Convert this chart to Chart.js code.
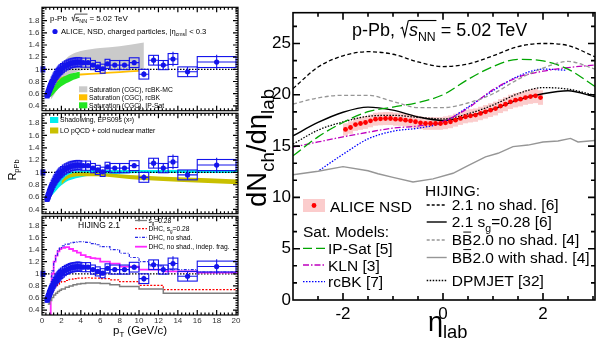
<!DOCTYPE html>
<html>
<head>
<meta charset="utf-8">
<title>p-Pb 5.02 TeV: R_pPb and dN/deta</title>
<script src="https://cdn.jsdelivr.net/npm/chart.js@4.4.1/dist/chart.umd.min.js"></script>
<style>
  html, body { margin: 0; padding: 0; background: #fff; }
  #fig { position: relative; width: 597px; height: 343px; overflow: hidden; }
  #fig canvas { position: absolute; }
</style>
</head>
<body>
<div id="fig">
  <canvas id="rp1" width="245" height="118" style="left:0;top:0"></canvas>
  <canvas id="rp2" width="245" height="115" style="left:0;top:106px"></canvas>
  <canvas id="rp3" width="245" height="134" style="left:0;top:209px"></canvas>
  <canvas id="eta" width="352" height="343" style="left:245px;top:0"></canvas>
</div>
<script>
const FONT = '"Liberation Sans", Arial, Helvetica, sans-serif';

// ---------- ALICE R_pPb, NSD, |eta_cms| < 0.3 ----------
const ptEdges = [0.5, 0.55, 0.6, 0.65, 0.7, 0.75, 0.8, 0.85, 0.9, 0.95, 1.0,
  1.1, 1.2, 1.3, 1.4, 1.5, 1.6, 1.7, 1.8, 1.9, 2.0,
  2.2, 2.4, 2.6, 2.8, 3.0, 3.2, 3.4, 3.6, 3.8, 4.0,
  4.5, 5.0, 5.5, 6.0, 6.5, 7.0, 8.0, 9.0, 10, 11, 12, 13, 14, 16, 20];
const rpPb = [0.57, 0.59, 0.61, 0.63, 0.655, 0.675, 0.695, 0.715, 0.735, 0.755,
  0.78, 0.815, 0.845, 0.875, 0.9, 0.925, 0.945, 0.965, 0.985, 1.0,
  1.02, 1.045, 1.065, 1.08, 1.095, 1.105, 1.11, 1.115, 1.12, 1.115,
  1.11, 1.11, 1.07, 1.04, 1.01, 1.09, 1.07, 1.07, 1.11, 0.92, 1.15, 1.07, 1.17, 0.96, 1.12];
const rpPbStat = [0.005, 0.005, 0.005, 0.005, 0.005, 0.005, 0.005, 0.005, 0.005, 0.005,
  0.005, 0.005, 0.005, 0.005, 0.005, 0.005, 0.005, 0.005, 0.006, 0.006,
  0.006, 0.006, 0.007, 0.007, 0.007, 0.008, 0.008, 0.009, 0.009, 0.01,
  0.01, 0.012, 0.015, 0.018, 0.02, 0.025, 0.025, 0.03, 0.04, 0.05, 0.08, 0.07, 0.12, 0.08, 0.12];
const rpPbSys = [0.04, 0.04, 0.045, 0.045, 0.045, 0.05, 0.05, 0.05, 0.05, 0.055,
  0.055, 0.06, 0.06, 0.065, 0.065, 0.07, 0.07, 0.07, 0.07, 0.075,
  0.075, 0.075, 0.075, 0.075, 0.075, 0.075, 0.075, 0.075, 0.075, 0.075,
  0.075, 0.075, 0.075, 0.075, 0.075, 0.075, 0.075, 0.075, 0.08, 0.08, 0.08, 0.075, 0.09, 0.08, 0.09];
const normUnc = 0.05;

// ---------- panel 1: saturation (CGC) ----------
const rcbkMcPt = [0.9, 1.2, 1.5, 2.0, 2.5, 3.0, 4.0, 5.0, 6.0, 8.0, 10.5];
const rcbkMcHi = [0.6, 0.76, 0.92, 1.08, 1.18, 1.24, 1.3, 1.33, 1.35, 1.38, 1.44];
const rcbkMcLo = [0.5, 0.57, 0.65, 0.77, 0.86, 0.92, 0.98, 1.0, 1.0, 0.99, 0.99];
const rcbkPt = [1.5, 2, 3, 4, 6, 8, 10];
const rcbkHi = [0.82, 0.87, 0.91, 0.93, 0.95, 0.97, 0.99];
const rcbkLo = [0.78, 0.83, 0.88, 0.9, 0.92, 0.94, 0.96];
const ipsatPt = [0.6, 0.8, 1.0, 1.5, 2.0, 2.5, 3.0, 3.5, 3.9];
const ipsatHi = [0.58, 0.62, 0.67, 0.78, 0.86, 0.9, 0.93, 0.95, 0.96];
const ipsatLo = [0.52, 0.54, 0.56, 0.65, 0.72, 0.77, 0.81, 0.84, 0.86];

// ---------- panel 2: shadowing / pQCD ----------
const eps09Pt = [0.5, 0.75, 1.0, 1.5, 2.0, 2.5, 3.0, 4.0, 5.0, 6.0, 8.0, 10, 14, 20.2];
const eps09Hi = [0.6, 0.66, 0.73, 0.86, 0.95, 0.99, 1.01, 1.03, 1.04, 1.04, 1.04, 1.04, 1.04, 1.04];
const eps09Lo = [0.55, 0.58, 0.62, 0.71, 0.79, 0.85, 0.88, 0.92, 0.95, 0.96, 0.98, 0.99, 0.99, 0.99];
const pqcdPt = [2.0, 2.5, 3.0, 4.0, 6.0, 8.0, 10, 14, 20.2];
const pqcdHi = [0.86, 0.94, 0.98, 1.0, 0.99, 0.97, 0.95, 0.92, 0.885];
const pqcdLo = [0.8, 0.88, 0.92, 0.94, 0.94, 0.91, 0.88, 0.85, 0.81];

// ---------- panel 3: HIJING 2.1 (bin left edges) ----------
const hjSgPt = [0.6, 0.8, 1.0, 1.2, 1.4, 1.6, 1.8, 2.0, 2.4, 2.8, 3.2, 3.6, 4.0, 4.5, 5.0, 5.5, 6, 7, 8, 10, 12.5, 20.2];
const hjSg = [0.5, 0.56, 0.61, 0.65, 0.68, 0.71, 0.73, 0.75, 0.78, 0.8, 0.82, 0.83, 0.84, 0.85, 0.85, 0.85, 0.84, 0.82, 0.79, 0.75, 0.68, 0.68];
const hjDhcSgPt = [0.9, 1.0, 1.2, 1.4, 1.6, 1.8, 2.0, 2.4, 2.8, 3.2, 3.6, 4.0, 4.5, 5.0, 5.5, 6, 7, 8, 10, 12.5, 20.2];
const hjDhcSg = [0.68, 0.72, 0.76, 0.8, 0.83, 0.85, 0.87, 0.89, 0.91, 0.92, 0.93, 0.93, 0.935, 0.93, 0.93, 0.92, 0.9, 0.87, 0.81, 0.74, 0.74];
const hjDhcPt = [0.9, 1.0, 1.2, 1.4, 1.6, 1.8, 2.0, 2.4, 2.8, 3.2, 3.6, 4.0, 4.5, 5.0, 5.5, 6, 7, 8, 9, 10, 11, 12.5, 16, 20.2];
const hjDhc = [0.95, 1.05, 1.2, 1.31, 1.38, 1.43, 1.46, 1.49, 1.51, 1.52, 1.53, 1.53, 1.52, 1.5, 1.48, 1.45, 1.4, 1.34, 1.27, 1.2, 1.13, 1.07, 1.03, 1.03];
const hjIndepPt = [0.85, 0.9, 1.0, 1.2, 1.4, 1.6, 1.8, 2.0, 2.4, 2.8, 3.2, 3.6, 4.0, 4.5, 5.0, 5.5, 6, 7, 8, 10, 12.5, 16, 20.2];
const hjIndep = [0.2, 0.7, 1.0, 1.2, 1.3, 1.37, 1.41, 1.43, 1.44, 1.41, 1.38, 1.35, 1.31, 1.28, 1.26, 1.25, 1.2, 1.17, 1.12, 1.07, 1.04, 1.02, 1.02];

// ---------- right: dNch/deta_lab ----------
const etaAlice = [-1.95, -1.85, -1.75, -1.65, -1.55, -1.45, -1.35, -1.25, -1.15, -1.05,
  -0.95, -0.85, -0.75, -0.65, -0.55, -0.45, -0.35, -0.25, -0.15, -0.05,
  0.05, 0.15, 0.25, 0.35, 0.45, 0.55, 0.65, 0.75, 0.85, 0.95,
  1.05, 1.15, 1.25, 1.35, 1.45, 1.55, 1.65, 1.75, 1.85, 1.95];
const dndetaAlice = [16.62, 16.81, 17.1, 17.2, 17.3, 17.46, 17.62, 17.66, 17.69, 17.69,
  17.62, 17.6, 17.53, 17.46, 17.37, 17.27, 17.2, 17.2, 17.2, 17.2,
  17.27, 17.37, 17.53, 17.7, 17.86, 17.95, 18.02, 18.18, 18.34, 18.5,
  18.66, 18.9, 19.08, 19.31, 19.47, 19.57, 19.73, 19.83, 19.9, 19.73];
const aliceSysRel = 0.036;

const etaModel = [-3, -2.5, -2, -1.5, -1, -0.5, 0, 0.5, 1, 1.5, 2, 2.5, 3.04];
const hij21NoShad = [20.6, 22.7, 23.8, 24.2, 23.95, 23.2, 22.75, 23.0, 23.8, 24.7, 25.0, 24.8, 23.7];
const hij21Sg = [16.0, 17.3, 18.3, 18.8, 18.5, 17.85, 17.5, 17.9, 18.6, 19.5, 20.1, 20.4, 19.8];
const bbNoShad = [19.1, 19.7, 19.95, 19.95, 19.35, 18.75, 18.75, 19.2, 20.1, 21.5, 22.6, 23.25, 22.5];
const dpmjet = [15.2, 16.55, 17.35, 17.9, 18.0, 17.8, 17.65, 18.15, 19.0, 20.1, 20.7, 20.55, 19.95];
const ipSatDn = [14.05, 15.9, 17.3, 18.35, 18.8, 19.25, 20.0, 21.5, 22.75, 23.45, 23.3, 22.5, 20.8];
const klnDn = [14.9, 15.4, 15.9, 16.35, 16.75, 16.95, 17.4, 18.7, 20.5, 21.7, 22.3, 22.65, 22.9];
const bbShadEta = [-3, -2.5, -2, -1.5, -1.3, -1, -0.6, -0.2, 0.2, 0.5, 0.85, 1.1, 1.4, 1.7, 2.0, 2.3, 2.55, 2.7, 3.04];
const bbShad = [12.2, 12.55, 13.0, 12.6, 12.3, 11.95, 11.5, 11.8, 12.35, 13.1, 13.95, 14.3, 14.95, 15.1, 15.4, 15.5, 15.75, 15.4, 15.55];
const rcbkEta = [-2.47, -2, -1.5, -1, -0.5, 0, 0.5, 1, 1.5, 2, 2.45];
const rcbkDn = [12.65, 14.2, 15.7, 16.45, 16.75, 17.3, 18.8, 20.4, 21.8, 22.5, 22.4];

// ---------- ticks ----------
const ptTicks = [0, 2, 4, 6, 8, 10, 12, 14, 16, 18, 20];
const rTicks = [0.4, 0.6, 0.8, 1, 1.2, 1.4, 1.6, 1.8];
const etaTicks = [-2, 0, 2];
const dnTicks = [0, 5, 10, 15, 20, 25];

// ---------- colours ----------
const BLUE = 'rgb(20,20,235)';
const RED = 'rgb(255,0,0)';
const PINK = 'rgba(248,170,170,0.6)';

// ---------- helpers ----------
const xy = (xs, ys) => xs.map((x, i) => ({ x, y: ys[i] }));
function minorTicks(a, b, step, skip) {
  const out = [];
  for (let k = Math.ceil(a / step - 1e-9); k * step <= b + 1e-9; k++) {
    const v = +(k * step).toFixed(6);
    if (!skip.some(s => Math.abs(s - v) < 1e-6)) out.push(v);
  }
  return out;
}

const N = t => ({ t }), B = (t, ov) => ({ t, b: 1, ov }), I = (t, ov) => ({ t, it: 1, ov });
const RAD = { rad: 1 };
function rich(ctx, x, y, parts, size, align, color) {
  const sz = p => (p.b ? size * 0.68 : size);
  const font = p => (p.it ? 'italic ' : '') + sz(p).toFixed(2) + 'px ' + FONT;
  const widths = parts.map(p => {
    if (p.rad) return size * 0.5;
    ctx.font = font(p);
    return ctx.measureText(p.t).width;
  });
  const total = widths.reduce((a, b) => a + b, 0);
  let cx = align === 'center' ? x - total / 2 : align === 'right' ? x - total : x;
  ctx.save();
  ctx.fillStyle = ctx.strokeStyle = color || '#000';
  ctx.textAlign = 'left';
  ctx.textBaseline = 'alphabetic';
  ctx.lineWidth = Math.max(0.7, size / 16);
  let ovFrom = null, ovTo = null;
  parts.forEach((p, i) => {
    if (p.rad) {
      ctx.beginPath();
      ctx.moveTo(cx + 0.03 * size, y - 0.42 * size);
      ctx.lineTo(cx + 0.13 * size, y - 0.48 * size);
      ctx.lineTo(cx + 0.26 * size, y + 0.02 * size);
      ctx.lineTo(cx + 0.46 * size, y - 0.86 * size);
      ctx.stroke();
      ovFrom = cx + 0.46 * size;
    } else {
      ctx.font = font(p);
      ctx.fillText(p.t, cx, y + (p.b ? 0.28 * size : 0));
      if (p.ov) ovTo = cx + widths[i];
      if (p.bar) {
        ctx.beginPath();
        ctx.moveTo(cx + 0.08 * size, y - 0.86 * size);
        ctx.lineTo(cx + widths[i] - 0.08 * size, y - 0.86 * size);
        ctx.stroke();
      }
    }
    cx += widths[i];
  });
  if (ovFrom !== null && ovTo !== null) {
    ctx.beginPath();
    ctx.moveTo(ovFrom, y - 0.86 * size);
    ctx.lineTo(ovTo + 0.04 * size, y - 0.86 * size);
    ctx.stroke();
  }
  ctx.restore();
}
function sample(ctx, x0, x1, y, color, width, dash) {
  ctx.save();
  ctx.strokeStyle = color; ctx.lineWidth = width; ctx.setLineDash(dash || []);
  ctx.beginPath(); ctx.moveTo(x0, y); ctx.lineTo(x1, y); ctx.stroke();
  ctx.restore();
}
function dot(ctx, x, y, r, color) {
  ctx.save(); ctx.fillStyle = color;
  ctx.beginPath(); ctx.arc(x, y, r, 0, 2 * Math.PI); ctx.fill();
  ctx.restore();
}
function rotated(ctx, x, y, fn) {
  ctx.save(); ctx.translate(x, y); ctx.rotate(-Math.PI / 2); fn(); ctx.restore();
}

// frame with inward ticks on all four sides
function makeFrame(spec) {
  return {
    id: 'frame',
    afterDraw(chart) {
      const { ctx, chartArea: a } = chart;
      const sx = chart.scales.x, sy = chart.scales.y;
      ctx.save();
      ctx.strokeStyle = '#000';
      ctx.lineWidth = spec.lw;
      ctx.beginPath();
      const mark = (vals, len, horiz) => vals.forEach(v => {
        if (horiz) {
          const px = sx.getPixelForValue(v);
          if (px < a.left + 0.5 || px > a.right - 0.5) return;
          ctx.moveTo(px, a.bottom); ctx.lineTo(px, a.bottom - len);
          ctx.moveTo(px, a.top); ctx.lineTo(px, a.top + len);
        } else {
          const py = sy.getPixelForValue(v);
          if (py < a.top + 0.5 || py > a.bottom - 0.5) return;
          ctx.moveTo(a.left, py); ctx.lineTo(a.left + len, py);
          ctx.moveTo(a.right, py); ctx.lineTo(a.right - len, py);
        }
      });
      mark(spec.xMajor, spec.major, true);
      mark(spec.xMinor, spec.minor, true);
      mark(spec.yMajor, spec.major, false);
      mark(spec.yMinor, spec.minor, false);
      ctx.stroke();
      ctx.strokeRect(a.left, a.top, a.right - a.left, a.bottom - a.top);
      ctx.restore();
    }
  };
}

// systematic boxes and error bars, drawn under the markers of the dataset
const errPlugin = {
  id: 'errs',
  beforeDatasetDraw(chart, args) {
    const ds = chart.data.datasets[args.index];
    const e = ds.err;
    if (!e) return;
    const { ctx, chartArea: a } = chart;
    const sx = chart.scales.x, sy = chart.scales.y;
    ctx.save();
    if (e.norm) {
      ctx.fillStyle = e.stroke;
      const x0 = sx.getPixelForValue(-0.15), x1 = sx.getPixelForValue(0.35);
      const y0 = sy.getPixelForValue(1 + e.norm), y1 = sy.getPixelForValue(1 - e.norm);
      ctx.fillRect(x0, y0, x1 - x0, y1 - y0);
    }
    ctx.beginPath();
    ctx.rect(a.left, a.top, a.right - a.left, a.bottom - a.top);
    ctx.clip();
    ds.data.forEach((p, i) => {
      const x0 = sx.getPixelForValue(p.x - e.bw[i]), x1 = sx.getPixelForValue(p.x + e.bw[i]);
      const y0 = sy.getPixelForValue(p.y + e.sys[i]), y1 = sy.getPixelForValue(p.y - e.sys[i]);
      if (e.fill) { ctx.fillStyle = e.fill; ctx.fillRect(x0, y0, x1 - x0, y1 - y0); }
      if (e.stroke) {
        ctx.strokeStyle = e.stroke; ctx.lineWidth = e.lw;
        ctx.strokeRect(x0, y0, x1 - x0, y1 - y0);
      }
      if (e.stat) {
        const px = sx.getPixelForValue(p.x), py = sy.getPixelForValue(p.y);
        ctx.beginPath();
        ctx.moveTo(px, sy.getPixelForValue(p.y + e.stat[i]));
        ctx.lineTo(px, sy.getPixelForValue(p.y - e.stat[i]));
        ctx.moveTo(sx.getPixelForValue(e.xlo[i]), py);
        ctx.lineTo(sx.getPixelForValue(e.xhi[i]), py);
        ctx.lineWidth = 1.1;
        ctx.stroke();
      }
    });
    ctx.restore();
  }
};

// ---------- left panels ----------
const ptLo = ptEdges.slice(0, -1), ptHi = ptEdges.slice(1);
const ptMid = ptLo.map((lo, i) => (lo + ptHi[i]) / 2);

function aliceRpPb() {
  return {
    data: xy(ptMid, rpPb), showLine: false, pointRadius: 2.6, pointBorderWidth: 0,
    pointBackgroundColor: BLUE, order: 0,
    err: { xlo: ptLo, xhi: ptHi, bw: ptLo.map((lo, i) => Math.max((ptHi[i] - lo) / 2, 0.2)),
      sys: rpPbSys, stat: rpPbStat, stroke: BLUE, lw: 1.1, norm: normUnc }
  };
}
function unity(order) {
  return { data: [{ x: 0, y: 1 }, { x: 20.2, y: 1 }], borderColor: '#000', borderWidth: 1.2,
    borderDash: [1.5, 1.5], pointRadius: 0, fill: false, order };
}
function band(xs, hi, lo, color, order) {
  const common = { pointRadius: 0, borderWidth: 0, borderColor: 'rgba(0,0,0,0)',
    cubicInterpolationMode: 'monotone', order };
  return [
    Object.assign({ data: xy(xs, hi), fill: '+1', backgroundColor: color }, common),
    Object.assign({ data: xy(xs, lo), fill: false }, common)
  ];
}
function hist(xs, ys, color, width, dash) {
  return { data: xy(xs, ys), stepped: true, borderColor: color, borderWidth: width,
    borderDash: dash, pointRadius: 0, fill: false, order: 2 };
}
function legendBox(ctx, yc, color, text, x) {
  ctx.save(); ctx.fillStyle = color; ctx.fillRect(x, yc - 3, 8.3, 6); ctx.restore();
  rich(ctx, x + 10, yc + 2.4, [N(text)], 6.8);
}

function leftPanel(id, yMin, yMax, pad, withX, datasets, drawText) {
  return new Chart(document.getElementById(id), {
    type: 'line',
    data: { datasets },
    options: {
      responsive: false, animation: false, devicePixelRatio: 1, events: [],
      layout: { padding: pad, autoPadding: false },
      plugins: { legend: { display: false }, tooltip: { enabled: false } },
      scales: {
        x: {
          type: 'linear', min: 0, max: 20.2, display: withX,
          afterFit: s => { s.height = withX ? 28 : 0; },
          afterBuildTicks: s => { s.ticks = ptTicks.map(v => ({ value: v })); },
          grid: { display: false, drawTicks: false }, border: { display: false },
          ticks: { font: { family: FONT, size: 8 }, color: '#333', padding: 1, maxRotation: 0, autoSkip: false }
        },
        y: {
          type: 'linear', min: yMin, max: yMax,
          afterFit: s => { s.width = 42; },
          afterBuildTicks: s => { s.ticks = rTicks.map(v => ({ value: v })); },
          grid: { display: false, drawTicks: false }, border: { display: false },
          ticks: { font: { family: FONT, size: 8 }, color: '#333', padding: 2.5, autoSkip: false,
            callback: v => String(v) }
        }
      }
    },
    plugins: [
      makeFrame({ lw: 1.2, major: 5, minor: 2.5, xMajor: ptTicks, xMinor: minorTicks(0, 20.2, 0.4, ptTicks),
        yMajor: rTicks, yMinor: minorTicks(yMin, yMax, 0.04, rTicks) }),
      errPlugin,
      { id: 'txt', afterDraw: chart => drawText(chart.ctx) }
    ]
  });
}

leftPanel('rp1', 0.32, 2.02, { top: 5, bottom: 6, left: 0, right: 7 }, false, [
  ...band(rcbkMcPt, rcbkMcHi, rcbkMcLo, '#cacaca', 7),
  ...band(rcbkPt, rcbkHi, rcbkLo, '#ffbf00', 6),
  ...band(ipsatPt, ipsatHi, ipsatLo, '#22e622', 5),
  unity(3),
  aliceRpPb()
], ctx => {
  rich(ctx, 50, 21, [N('p-Pb  '), RAD, N('s', 1), B('NN', 1), N(' = 5.02 TeV')], 8);
  dot(ctx, 55, 31.5, 2.6, BLUE);
  rich(ctx, 61, 33.8, [N('ALICE, NSD, charged particles, |η'), B('cms'), N('| < 0.3')], 7.6);
  legendBox(ctx, 89.3, '#cacaca', 'Saturation (CGC), rcBK-MC', 79);
  legendBox(ctx, 97.3, '#ffbf00', 'Saturation (CGC), rcBK', 79);
  legendBox(ctx, 105.3, '#22e622', 'Saturation (CGC), IP-Sat', 79);
});

leftPanel('rp2', 0.33, 1.96, { top: 6, bottom: 6, left: 0, right: 7 }, false, [
  ...band(eps09Pt, eps09Hi, eps09Lo, '#00eeee', 6),
  ...band(pqcdPt, pqcdHi, pqcdLo, '#c9c000', 5),
  unity(3),
  aliceRpPb()
], ctx => {
  legendBox(ctx, 14, '#00eeee', 'Shadowing, EPS09s (x²)', 50);
  legendBox(ctx, 24.5, '#c9c000', 'LO pQCD + cold nuclear matter', 50);
  rotated(ctx, 16, 64, () => rich(ctx, 0, 0, [N('R'), B('pPb')], 11, 'center'));
});

leftPanel('rp3', 0.32, 1.95, { top: 6, bottom: 0, left: 0, right: 7 }, true, [
  unity(3),
  hist(hjSgPt, hjSg, 'rgb(125,125,125)', 1.5, []),
  hist(hjDhcSgPt, hjDhcSg, 'rgb(255,0,0)', 1.2, [2, 1.5]),
  hist(hjDhcPt, hjDhc, 'rgb(40,40,230)', 1.2, [3, 1.5, 1, 1.5]),
  hist(hjIndepPt, hjIndep, 'rgb(255,40,255)', 1.8, []),
  aliceRpPb()
], ctx => {
  rich(ctx, 78, 19, [N('HIJING 2.1')], 8.5);
  sample(ctx, 135, 147, 11.5, 'rgb(125,125,125)', 1.3, []);
  rich(ctx, 148.5, 13.8, [N('s'), B('g'), N('=0.28')], 6.7);
  sample(ctx, 135, 147, 19.6, 'rgb(255,0,0)', 1.2, [2, 1.5]);
  rich(ctx, 148.5, 21.9, [N('DHC, s'), B('g'), N('=0.28')], 6.7);
  sample(ctx, 135, 147, 28.3, 'rgb(40,40,230)', 1.2, [3, 1.5, 1, 1.5]);
  rich(ctx, 148.5, 30.6, [N('DHC, no shad.')], 6.7);
  sample(ctx, 135, 147, 37.7, 'rgb(255,40,255)', 1.8, []);
  rich(ctx, 148.5, 40, [N('DHC, no shad., indep. frag.')], 6.7);
  rich(ctx, 113, 124.5, [N('p'), B('T'), N(' (GeV/c)')], 11.5);
});

// ---------- right panel ----------
function curve(xs, ys, color, dash, width, extra) {
  return Object.assign({ data: xy(xs, ys), borderColor: color, borderDash: dash, borderWidth: width || 1.3,
    pointRadius: 0, fill: false, cubicInterpolationMode: 'monotone', order: 5 }, extra || {});
}
const GRAY = 'rgb(150,150,150)', GREEN = 'rgb(0,165,0)', PURPLE = 'rgb(190,0,190)', BLUE2 = 'rgb(0,0,255)';
const OX = 245;

new Chart(document.getElementById('eta'), {
  type: 'line',
  data: {
    datasets: [
      { data: xy(etaAlice, dndetaAlice), showLine: false, pointRadius: 0, order: 9,
        err: { bw: etaAlice.map(() => 0.05), sys: dndetaAlice.map(v => v * aliceSysRel), fill: PINK } },
      curve(etaModel, bbNoShad, GRAY, [4, 2.5]),
      curve(bbShadEta, bbShad, GRAY, [], 1.4, { cubicInterpolationMode: 'default', tension: 0 }),
      curve(etaModel, ipSatDn, GREEN, [10, 4]),
      curve(etaModel, klnDn, PURPLE, [6, 2, 1.5, 2]),
      curve(rcbkEta, rcbkDn, BLUE2, [1.5, 1.5]),
      curve(etaModel, hij21NoShad, '#000', [4, 2.5]),
      curve(etaModel, hij21Sg, '#000', [], 1.4),
      curve(etaModel, dpmjet, '#000', [1.5, 1.5]),
      { data: xy(etaAlice, dndetaAlice), showLine: false, pointRadius: 2.4, pointBorderWidth: 0,
        pointBackgroundColor: RED, order: 0 }
    ]
  },
  options: {
    responsive: false, animation: false, devicePixelRatio: 1, events: [],
    layout: { padding: { top: 12.7, right: 2, left: 0, bottom: 0 }, autoPadding: false },
    plugins: { legend: { display: false }, tooltip: { enabled: false } },
    scales: {
      x: {
        type: 'linear', min: -3, max: 3.04,
        afterFit: s => { s.height = 43; },
        afterBuildTicks: s => { s.ticks = etaTicks.map(v => ({ value: v })); },
        grid: { display: false, drawTicks: false }, border: { display: false },
        ticks: { font: { family: FONT, size: 17 }, color: '#000', padding: 4, maxRotation: 0, autoSkip: false,
          callback: v => String(v) }
      },
      y: {
        type: 'linear', min: 0, max: 28,
        afterFit: s => { s.width = 48; },
        afterBuildTicks: s => { s.ticks = dnTicks.map(v => ({ value: v })); },
        grid: { display: false, drawTicks: false }, border: { display: false },
        ticks: { font: { family: FONT, size: 17 }, color: '#000', padding: 2, autoSkip: false,
          callback: v => String(v) }
      }
    }
  },
  plugins: [
    makeFrame({ lw: 1.6, major: 7, minor: 4, xMajor: etaTicks, xMinor: minorTicks(-3, 3.04, 0.5, etaTicks),
      yMajor: dnTicks, yMinor: minorTicks(0, 28, 5 / 3, dnTicks) }),
    errPlugin,
    { id: 'txt', afterDraw(chart) {
      const ctx = chart.ctx;
      rich(ctx, 352 - OX, 36, [N('p-Pb, '), RAD, I('s', 1), B('NN', 1), N(' = 5.02 TeV')], 18);
      rotated(ctx, 21, 148, () => rich(ctx, 0, 0, [N('dN'), B('ch'), N('/dη'), B('lab')], 27.5, 'center'));
      rich(ctx, 428 - OX, 330.5, [N('η'), B('lab')], 27);
      // left legend
      ctx.save(); ctx.fillStyle = PINK; ctx.fillRect(303 - OX, 199, 22, 13); ctx.restore();
      dot(ctx, 314 - OX, 205.5, 2.4, RED);
      rich(ctx, 330 - OX, 211.5, [N('ALICE NSD')], 15.5);
      rich(ctx, 303 - OX, 237, [N('Sat. Models:')], 15.5);
      sample(ctx, 303 - OX, 325 - OX, 248.3, GREEN, 1.3, [9, 4]);
      rich(ctx, 328 - OX, 253.8, [N('IP-Sat [5]')], 15.5);
      sample(ctx, 303 - OX, 325 - OX, 265, PURPLE, 1.3, [6, 2, 1.5, 2]);
      rich(ctx, 328 - OX, 270.5, [N('KLN [3]')], 15.5);
      sample(ctx, 303 - OX, 325 - OX, 281.7, BLUE2, 1.3, [1.5, 1.5]);
      rich(ctx, 328 - OX, 287.2, [N('rcBK [7]')], 15.5);
      // HIJING legend
      rich(ctx, 425 - OX, 195.5, [N('HIJING:')], 15.5);
      const lx0 = 426.7 - OX, lx1 = 446.7 - OX, tx = 451.7 - OX;
      sample(ctx, lx0, lx1, 205, '#000', 1.3, [3, 2]);
      rich(ctx, tx, 210.4, [N('2.1 no shad. [6]')], 15.5);
      sample(ctx, lx0, lx1, 222, '#000', 1.4, []);
      rich(ctx, tx, 227.4, [N('2.1 s'), B('g'), N('=0.28 [6]')], 15.5);
      sample(ctx, lx0, lx1, 240, GRAY, 1.3, [3, 2]);
      rich(ctx, tx, 245.4, [N('B'), { t: 'B', bar: 1 }, N('2.0 no shad. [4]')], 15.5);
      sample(ctx, lx0, lx1, 257.5, GRAY, 1.4, []);
      rich(ctx, tx, 262.9, [N('B'), { t: 'B', bar: 1 }, N('2.0 with shad. [4]')], 15.5);
      sample(ctx, lx0, lx1, 280.5, '#000', 1.3, [1.5, 1.5]);
      rich(ctx, tx, 285.9, [N('DPMJET [32]')], 15.5);
    } }
  ]
});
</script>
</body>
</html>
